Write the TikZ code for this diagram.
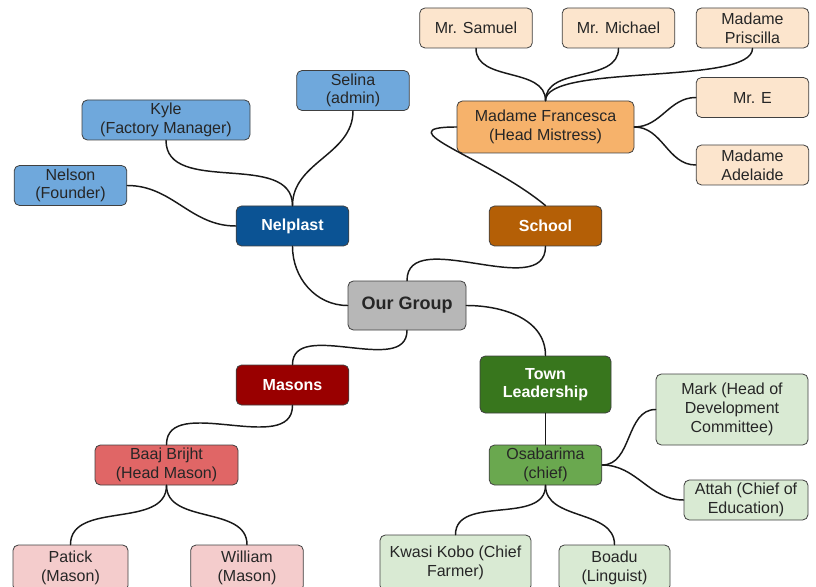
\documentclass[tikz,border=0pt]{standalone}
\usepackage{fontspec}
\setmainfont{Liberation Sans}
\definecolor{blueA}{HTML}{0B5394}
\definecolor{blueB}{HTML}{6FA8DC}
\definecolor{orangeA}{HTML}{B45F06}
\definecolor{orangeB}{HTML}{F6B26B}
\definecolor{orangeC}{HTML}{FCE5CD}
\definecolor{redA}{HTML}{990000}
\definecolor{redB}{HTML}{E06666}
\definecolor{redC}{HTML}{F4CCCC}
\definecolor{greenA}{HTML}{38761D}
\definecolor{greenB}{HTML}{6AA84F}
\definecolor{greenC}{HTML}{D9EAD3}
\definecolor{greyA}{HTML}{B7B7B7}
\begin{document}
\begin{tikzpicture}[x=0.75pt,y=0.75pt,line join=round,line cap=round]
\tikzset{box/.style={draw=black!75,line width=0.6pt,rounded corners=4pt,align=center,
  minimum width=84.5pt,minimum height=30pt,inner sep=2pt,text=black!85,
  font=\fontsize{12}{14}\selectfont},
  head/.style={box,text=white,font=\fontsize{12}{14}\selectfont\bfseries},
  link/.style={line width=1.1pt,black!90}}
\useasboundingbox (0,0) rectangle (816,586);
\node[box,fill=greyA,minimum width=88.5pt,minimum height=36.75pt,font=\fontsize{13.5}{16}\selectfont\bfseries] (group) at (407,280.5) {Our Group};
\node[head,fill=blueA] (nelplast) at (292.5,360) {Nelplast};
\node[head,fill=orangeA] (school) at (545.5,360) {School};
\node[head,fill=redA] (masons) at (292.5,201) {Masons};
\node[head,fill=greenA,minimum width=98.25pt,minimum height=42.75pt] (town) at (545.5,201.5) {Town\\Leadership};
\node[box,fill=blueB] (selina) at (353,495.5) {Selina\\(admin)};
\node[box,fill=blueB,minimum width=126pt] (kyle) at (166,466) {Kyle\\(Factory Manager)};
\node[box,fill=blueB] (nelson) at (70.5,400.5) {Nelson\\(Founder)};
\node[box,fill=orangeB,minimum width=132.75pt,minimum height=39pt] (francesca) at (545.5,459) {Madame Francesca\\(Head Mistress)};
\node[box,fill=orangeC] (samuel) at (476,558) {Mr. Samuel};
\node[box,fill=orangeC] (michael) at (618.5,558) {Mr. Michael};
\node[box,fill=orangeC] (priscilla) at (752.5,558) {Madame\\Priscilla};
\node[box,fill=orangeC] (mre) at (752.5,488.5) {Mr. E};
\node[box,fill=orangeC] (adelaide) at (752.5,421) {Madame\\Adelaide};
\node[box,fill=redB,minimum width=107.25pt] (baaj) at (166.5,121) {Baaj Brijht\\(Head Mason)};
\node[box,fill=redC,minimum width=86.25pt,minimum height=34.5pt] (patick) at (70.5,18) {Patick\\(Mason)};
\node[box,fill=redC,minimum height=34.5pt] (william) at (247,18) {William\\(Mason)};
\node[box,fill=greenB] (osab) at (545.5,121) {Osabarima\\(chief)};
\node[box,fill=greenC,minimum width=114pt,minimum height=53.25pt] (mark) at (732,176.5) {Mark (Head of\\Development\\Committee)};
\node[box,fill=greenC,minimum width=93pt] (attah) at (746,86) {Attah (Chief of\\Education)};
\node[box,fill=greenC,minimum width=113.25pt,minimum height=42pt] (kwasi) at (455.5,23) {Kwasi Kobo (Chief\\Farmer)};
\node[box,fill=greenC,minimum width=83.25pt,minimum height=34.5pt] (boadu) at (614.5,18) {Boadu\\(Linguist)};
\draw[link] (group.west) to[out=180,in=270] (nelplast.south);
\draw[link] (group.north) to[out=90,in=270] (school.south);
\draw[link] (group.east) to[out=0,in=90] (town.north);
\draw[link] (group.south) to[out=270,in=90] (masons.north);
\draw[link] (nelplast.north) to[out=90,in=270] (kyle.south);
\draw[link] (nelplast.north) to[out=90,in=270] (selina.south);
\draw[link] (nelplast.west) to[out=180,in=0] (nelson.east);
\draw[link] (school.north) to[out=140,in=180,looseness=1.6] (francesca.west);
\draw[link] (francesca.north) to[out=90,in=270] (samuel.south);
\draw[link] (francesca.north) to[out=90,in=270] (michael.south);
\draw[link] (francesca.north) to[out=90,in=270,looseness=0.45] (priscilla.south);
\draw[link] (francesca.east) to[out=0,in=180] (mre.west);
\draw[link] (francesca.east) to[out=0,in=180] (adelaide.west);
\draw[link] (town.south) -- (osab.north);
\draw[link] (osab.east) to[out=0,in=180] (mark.west);
\draw[link] (osab.east) to[out=0,in=180] (attah.west);
\draw[link] (osab.south) to[out=270,in=90] (kwasi.north);
\draw[link] (osab.south) to[out=270,in=90] (boadu.north);
\draw[link] (masons.south) to[out=270,in=90] (baaj.north);
\draw[link] (baaj.south) to[out=270,in=90] (patick.north);
\draw[link] (baaj.south) to[out=270,in=90] (william.north);
\end{tikzpicture}
\end{document}
